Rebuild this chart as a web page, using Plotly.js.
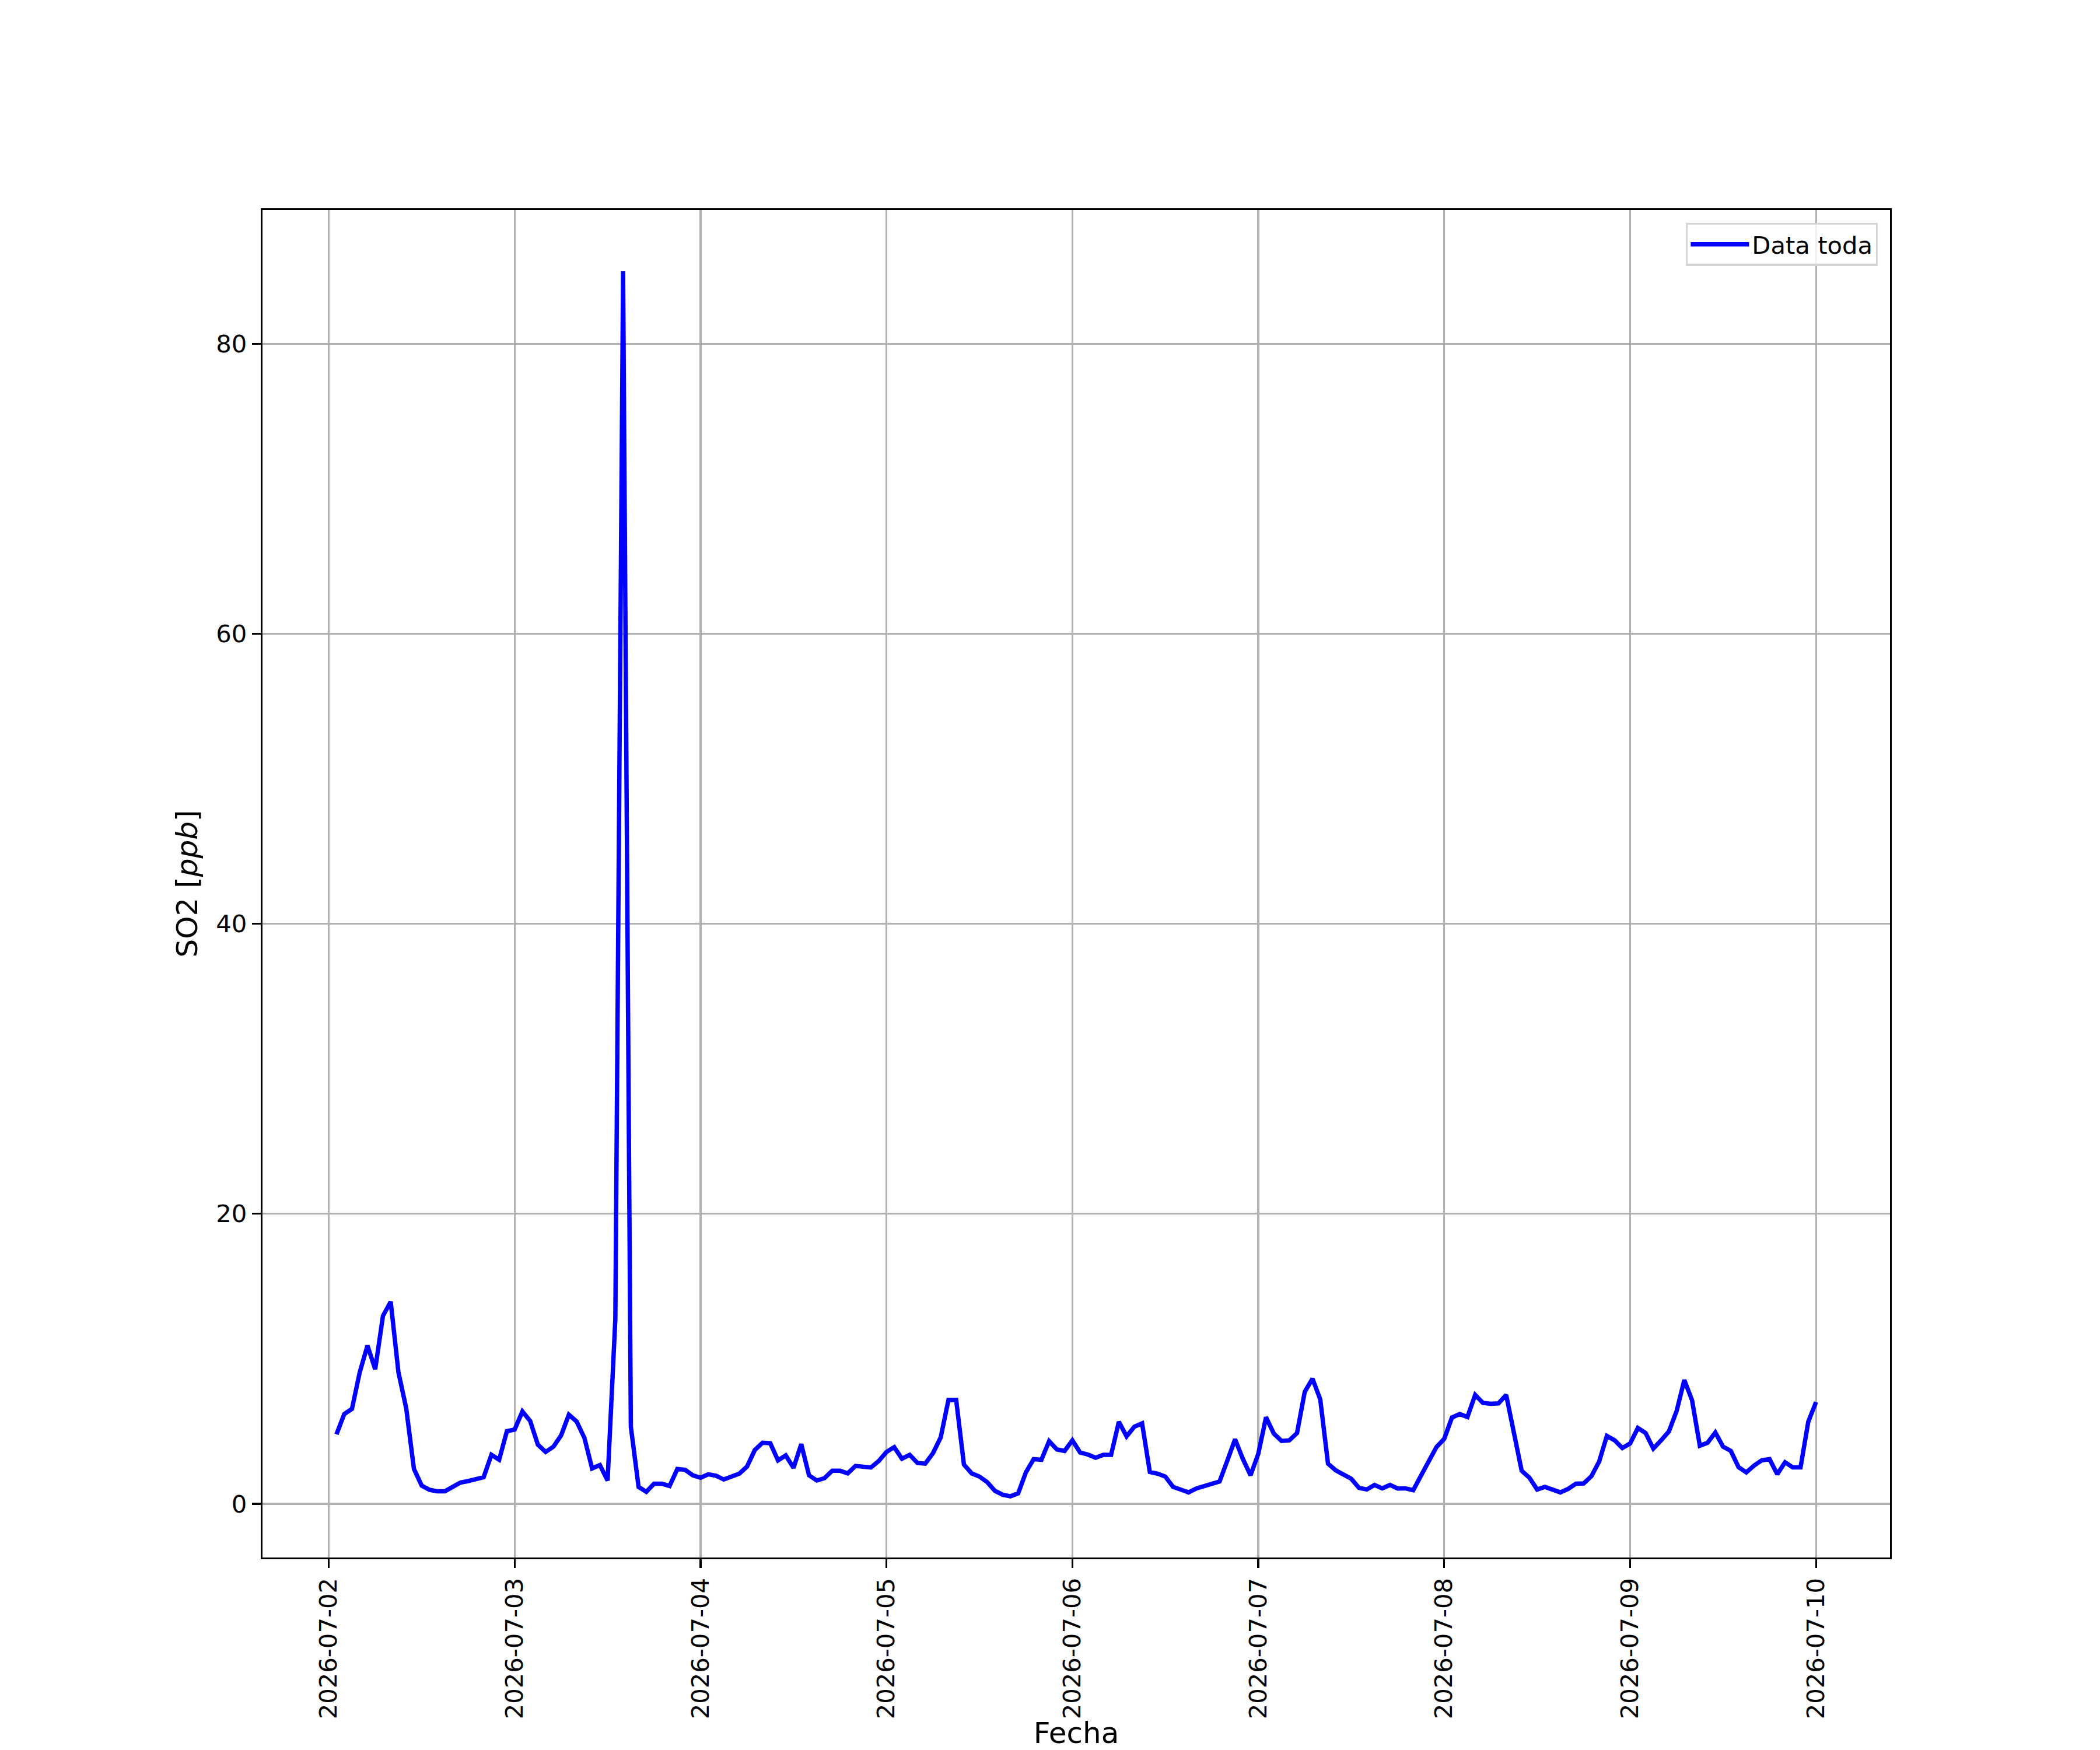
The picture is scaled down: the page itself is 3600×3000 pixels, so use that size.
<!DOCTYPE html>
<html>
<head>
<meta charset="utf-8">
<script src="https://cdn.plot.ly/plotly-3.0.1.min.js"></script>
<style>html,body{margin:0;padding:0;background:#fff;}</style>
</head>
<body>
<div id="chart" style="width:3600px;height:3000px;"></div>
<script>
// Hourly SO2 readings, first reading at 2026-07-02 01:00, one per hour
const startDay = 2;          // 2026-07-02
const firstHour = 1;         // 01:00
const so2Values = [
  4.79, 6.19, 6.55, 9.07, 10.91, 9.28, 12.96, 13.94, 9.07, 6.60,
  2.41, 1.26, 0.97, 0.87, 0.87, 1.17, 1.47, 1.57, 1.70, 1.84,
  3.38, 3.04, 5.01, 5.12, 6.37, 5.72, 4.08, 3.58, 3.94, 4.72,
  6.15, 5.68, 4.56, 2.44, 2.67, 1.61, 12.76, 85.0, 5.32, 1.17,
  0.83, 1.39, 1.39, 1.23, 2.40, 2.35, 1.97, 1.80, 2.04, 1.94,
  1.68, 1.88, 2.08, 2.57, 3.71, 4.21, 4.18, 3.00, 3.34, 2.48,
  4.12, 1.97, 1.61, 1.77, 2.28, 2.28, 2.10, 2.61, 2.55, 2.51,
  2.95, 3.58, 3.91, 3.11, 3.38, 2.82, 2.77, 3.49, 4.58, 7.16,
  7.16, 2.71, 2.10, 1.88, 1.50, 0.90, 0.63, 0.52, 0.72, 2.17,
  3.08, 3.04, 4.32, 3.75, 3.65, 4.38, 3.54, 3.40, 3.18, 3.38,
  3.38, 5.66, 4.65, 5.32, 5.55, 2.20, 2.08, 1.88, 1.17, 1.01,
  0.79, 1.06, 1.21, 1.37, 1.54, 2.98, 4.45, 3.11, 1.97, 3.45,
  5.97, 4.85, 4.34, 4.38, 4.88, 7.73, 8.63, 7.20, 2.77, 2.31,
  2.01, 1.73, 1.10, 0.99, 1.30, 1.07, 1.30, 1.06, 1.07, 0.94,
  1.94, 2.96, 3.91, 4.48, 5.95, 6.19, 5.99, 7.51, 6.96, 6.90,
  6.93, 7.51, 4.73, 2.28, 1.80, 0.99, 1.17, 0.97, 0.79, 1.03,
  1.39, 1.41, 1.90, 2.91, 4.68, 4.38, 3.85, 4.16, 5.23, 4.88,
  3.81, 4.38, 4.99, 6.39, 8.54, 7.13, 4.01, 4.21, 4.92, 3.94,
  3.65, 2.53, 2.17, 2.64, 3.00, 3.08, 2.04, 2.87, 2.51, 2.51,
  5.66, 7.02
];
const tickDates = ['2026-07-02','2026-07-03','2026-07-04','2026-07-05','2026-07-06',
                   '2026-07-07','2026-07-08','2026-07-09','2026-07-10'];
const yTicks = [0, 20, 40, 60, 80];
const seriesName = 'Data toda';

function pad(n){ return (n < 10 ? '0' : '') + n; }
const times = so2Values.map((v, i) => {
  const hrs = firstHour + i;
  const d = startDay + Math.floor(hrs / 24);
  const h = hrs % 24;
  return '2026-07-' + pad(d) + ' ' + pad(h) + ':00';
});

const trace = {
  x: times, y: so2Values, type: 'scatter', mode: 'lines',
  name: seriesName, line: {color: '#0000ff', width: 7.5}
};

const axisCommon = {
  showline: true, linecolor: '#000', linewidth: 3.3, mirror: true,
  ticks: 'outside', ticklen: 15, tickwidth: 3.3, tickcolor: '#000',
  showgrid: true, gridcolor: '#b0b0b0', gridwidth: 3.3, zeroline: false,
  tickfont: {family: 'DejaVu Sans', size: 41.7, color: '#000'}
};

const layout = {
  width: 3600, height: 3000,
  margin: {l: 450, r: 360, t: 360, b: 250},
  paper_bgcolor: '#fff', plot_bgcolor: '#fff',
  font: {family: 'DejaVu Sans', size: 41.7, color: '#000'},
  showlegend: true,
  xaxis: Object.assign({}, axisCommon, {
    type: 'date',
    range: ['2026-07-01 15:27', '2026-07-10 09:33'],
    tickmode: 'array', tickvals: tickDates, ticktext: tickDates,
    tickangle: -90,
    title: {text: 'Fecha', font: {family: 'DejaVu Sans', size: 50, color: '#000'}}
  }),
  yaxis: Object.assign({}, axisCommon, {
    domain: [80 / 2390, 1],
    range: [-3.70, 89.22],
    tickmode: 'array', tickvals: yTicks, ticktext: yTicks.map(String),
    title: {text: 'SO2 [<i>ppb</i>]', font: {family: 'DejaVu Sans', size: 50, color: '#000'}}
  }),
  legend: {
    x: 0.9925, y: 0.9909, xanchor: 'right', yanchor: 'top',
    bgcolor: 'rgba(255,255,255,0.8)', bordercolor: '#d5d5d5', borderwidth: 3.3,
    itemwidth: 100,
    font: {family: 'DejaVu Sans', size: 41.7, color: '#000'}
  }
};

Plotly.newPlot('chart', [trace], layout, {staticPlot: true, displayModeBar: false});
</script>
</body>
</html>
